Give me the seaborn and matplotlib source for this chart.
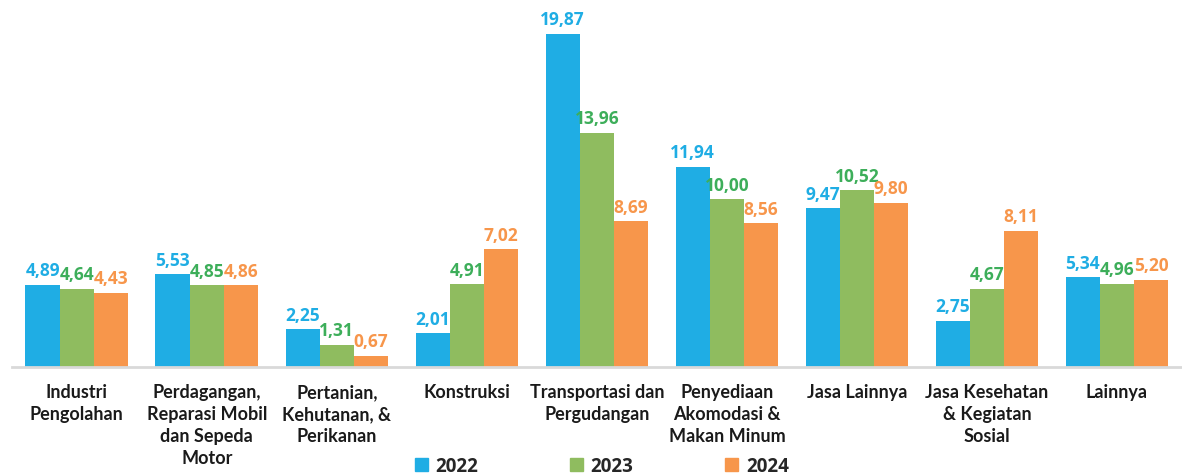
import numpy as np
import pandas as pd
import matplotlib
matplotlib.use("Agg")
import matplotlib.pyplot as plt
import seaborn as sns

categories = [
    "Industri\nPengolahan",
    "Perdagangan,\nReparasi Mobil\ndan Sepeda\nMotor",
    "Pertanian,\nKehutanan, &\nPerikanan",
    "Konstruksi",
    "Transportasi dan\nPergudangan",
    "Penyediaan\nAkomodasi &\nMakan Minum",
    "Jasa Lainnya",
    "Jasa Kesehatan\n& Kegiatan\nSosial",
    "Lainnya",
]
years = ["2022", "2023", "2024"]
v2022 = [4.89, 5.53, 2.25, 2.01, 19.87, 11.94, 9.47, 2.75, 5.34]
v2023 = [4.64, 4.85, 1.31, 4.91, 13.96, 10.00, 10.52, 4.67, 4.96]
v2024 = [4.43, 4.86, 0.67, 7.02, 8.69, 8.56, 9.80, 8.11, 5.20]
colors = ["#1FADE4", "#8FBC5F", "#F7964B"]
label_colors = ["#1FADE4", "#3DAE5A", "#F7964B"]

df = pd.DataFrame({
    "kategori": categories * 3,
    "tahun": np.repeat(years, len(categories)),
    "nilai": v2022 + v2023 + v2024,
})

sns.set_theme(style="white")
plt.rcParams["font.family"] = ["Open Sans", "DejaVu Sans"]

fig = plt.figure(figsize=(11.82, 4.77), dpi=100)
ax = fig.add_axes([0.01, 0.229, 0.99, 0.75])

sns.barplot(data=df, x="kategori", y="nilai", hue="tahun", palette=colors,
            width=0.79, saturation=1, ax=ax, legend=False, edgecolor="none")

# label nilai di atas batang
for cont, lc in zip(ax.containers, label_colors):
    labels = [f"{v:.2f}".replace(".", ",") for v in cont.datavalues]
    ax.bar_label(cont, labels=labels, padding=4, color=lc,
                 fontsize=12.5, fontweight="bold")

ax.set_ylim(0, 21.35)
ax.set_xlim(-0.5, len(categories) - 0.5)
ax.set_yticks([])
ax.set_xlabel("")
ax.set_ylabel("")
for s in ["top", "right", "left"]:
    ax.spines[s].set_visible(False)
ax.spines["bottom"].set_color("#D9D9D9")
ax.spines["bottom"].set_linewidth(2)
ax.tick_params(axis="x", length=0, pad=12)
for t in ax.get_xticklabels():
    t.set_family(["Lato", "DejaVu Sans"])
    t.set_fontweight("bold")
    t.set_fontsize(13)
    t.set_color("#1a1a1a")
    t.set_linespacing(1.35)

handles = [plt.Rectangle((0, 0), 1, 1, color=c) for c in colors]
fig.legend(handles, years, loc="lower center", bbox_to_anchor=(0.509, -0.035),
           ncol=3, frameon=False, columnspacing=4.9, handlelength=0.7,
           handleheight=0.7, handletextpad=0.4,
           prop={"weight": "bold", "size": 13.5})

fig.savefig("out.png", dpi=100)
